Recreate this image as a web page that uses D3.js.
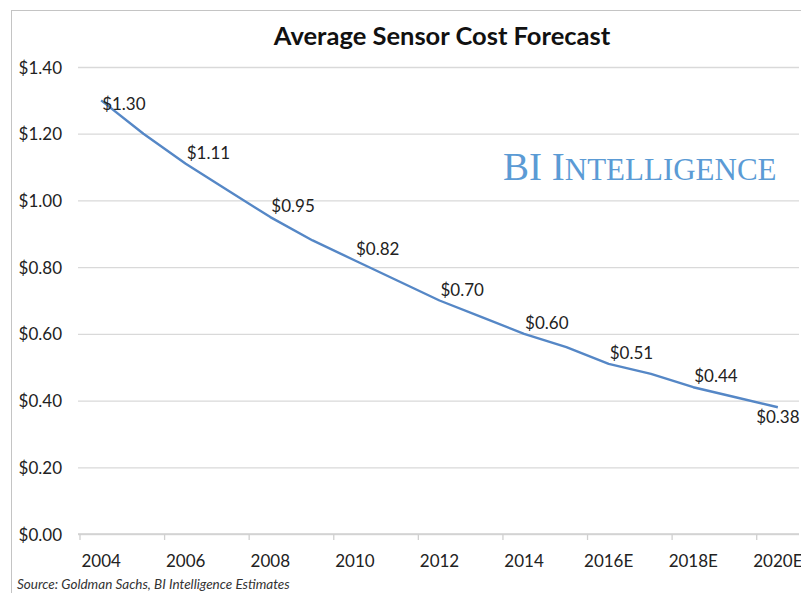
<html>
<head>
<meta charset="utf-8">
<title>Average Sensor Cost Forecast</title>
<style>
  *{margin:0;padding:0;}
  body{background:#fff;}
  svg{display:block;}
</style>
</head>
<body>
<div id="chart"></div>
<script src="https://cdnjs.cloudflare.com/ajax/libs/d3/7.8.5/d3.min.js"></script>
<script>
// data
var years = ["2004","2005","2006","2007","2008","2009","2010","2011","2012",
             "2013","2014","2015","2016E","2017E","2018E","2019E","2020E"];
var cost = [1.30,1.20,1.11,1.03,0.95,0.88,0.82,0.76,0.70,
            0.65,0.60,0.56,0.51,0.48,0.44,0.41,0.38];
var labelYears = ["2004","2006","2008","2010","2012","2014","2016E","2018E","2020E"];
var yTicks = [0,0.2,0.4,0.6,0.8,1.0,1.2,1.4];

var width = 801, height = 593;
var plotLeft = 80, plotRight = 799, plotTop = 67, plotBottom = 534;

var svg = d3.select("#chart").append("svg")
    .attr("width", width)
    .attr("height", height);

// frame
svg.append("rect")
    .attr("x", 11.5).attr("y", 10.5)
    .attr("width", 820).attr("height", 620)
    .attr("fill", "none")
    .attr("stroke", "#c4c4c4")
    .attr("stroke-width", 1);

var x = d3.scaleBand().domain(years).range([plotLeft, plotRight]).padding(0);
var y = d3.scaleLinear().domain([0, 1.4]).range([plotBottom, plotTop]);

// gridlines + y labels
var yAxis = d3.axisLeft(y)
    .tickValues(yTicks)
    .tickSize(-(plotRight - plotLeft) - 2)
    .tickPadding(16)
    .tickFormat(function(d){ return "$" + d.toFixed(2); });

var gy = svg.append("g")
    .attr("transform", "translate(" + (plotLeft - 2) + ",0)")
    .call(yAxis);
gy.select(".domain").remove();
gy.selectAll("line").attr("stroke", "#d9d9d9").attr("stroke-width", 1.3);
gy.selectAll("text")
    .attr("font-family", "Lato, sans-serif")
    .attr("font-size", 17)
    .attr("fill", "#222")
    .attr("dy", "0.36em");

// x axis: ticks at the start of every labelled category
var gx = svg.append("g").attr("transform", "translate(0," + plotBottom + ")");
gx.append("line")
    .attr("x1", plotLeft - 2).attr("x2", plotRight)
    .attr("stroke", "#d0d0d0").attr("stroke-width", 1.3);
gx.selectAll("line.tick").data(labelYears).enter().append("line")
    .attr("class", "tick")
    .attr("x1", function(d){ return x(d); })
    .attr("x2", function(d){ return x(d); })
    .attr("y1", 0).attr("y2", 6)
    .attr("stroke", "#d0d0d0").attr("stroke-width", 1.3);
gx.selectAll("text").data(labelYears).enter().append("text")
    .attr("x", function(d){ return x(d) + x.bandwidth() / 2; })
    .attr("y", 33)
    .attr("text-anchor", "middle")
    .attr("font-family", "Lato, sans-serif")
    .attr("font-size", 17)
    .attr("fill", "#222")
    .text(function(d){ return d; });

// line
var pts = years.map(function(d, i){ return {year: d, v: cost[i]}; });
var line = d3.line()
    .x(function(d){ return x(d.year) + x.bandwidth() / 2; })
    .y(function(d){ return y(d.v); });

svg.append("path")
    .datum(pts)
    .attr("d", line)
    .attr("fill", "none")
    .attr("stroke", "#5587c6")
    .attr("stroke-width", 2.4)
    .attr("stroke-linejoin", "round");

// data labels on every other year
var lab = pts.filter(function(d){ return labelYears.indexOf(d.year) >= 0; });
svg.selectAll("text.val").data(lab).enter().append("text")
    .attr("class", "val")
    .attr("x", function(d, i){
        var cx = x(d.year) + x.bandwidth() / 2;
        return i === lab.length - 1 ? cx : cx + 1;
    })
    .attr("y", function(d, i){
        if (i === 0) return y(d.v) + 10;
        if (i === lab.length - 1) return y(d.v) + 16;
        return y(d.v) - 5;
    })
    .attr("text-anchor", function(d, i){ return i === lab.length - 1 ? "middle" : "start"; })
    .attr("font-family", "Lato, sans-serif")
    .attr("font-size", 17)
    .attr("fill", "#222")
    .text(function(d){ return "$" + d.v.toFixed(2); });

// title
svg.append("text")
    .attr("x", 442).attr("y", 45)
    .attr("text-anchor", "middle")
    .attr("font-family", "Lato, sans-serif")
    .attr("font-weight", "bold")
    .attr("font-size", 25.5)
    .attr("fill", "#111")
    .text("Average Sensor Cost Forecast");

// watermark
var bi = svg.append("text")
    .attr("x", 503).attr("y", 180)
    .attr("font-family", "'Liberation Serif', 'DejaVu Serif', serif")
    .attr("fill", "#5b9bd5");
bi.append("tspan").attr("font-size", 39).text("BI I");
bi.append("tspan").attr("font-size", 31).text("NTELLIGENCE");

// source
svg.append("text")
    .attr("x", 17).attr("y", 589)
    .attr("font-family", "Lato, sans-serif")
    .attr("font-style", "italic")
    .attr("font-size", 13.5)
    .attr("fill", "#333")
    .text("Source: Goldman Sachs, BI Intelligence Estimates");
</script>
</body>
</html>
